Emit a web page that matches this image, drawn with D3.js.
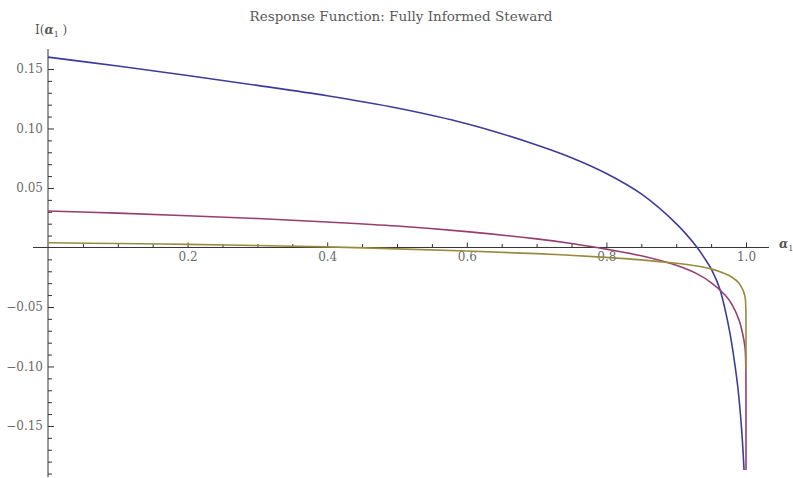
<!DOCTYPE html>
<html>
<head>
<meta charset="utf-8">
<script src="https://cdn.jsdelivr.net/npm/d3@7"></script>
<style>
  html, body { margin: 0; padding: 0; background: #fff; }
  svg { display: block; }
</style>
</head>
<body>
<svg id="chart" width="793" height="478"></svg>
<script>
// ---- Data ----
const titleText = "Response Function: Fully Informed Steward";

const xTickValues = [0.2, 0.4, 0.6, 0.8, 1.0];
const yTickValues = [0.15, 0.10, 0.05, -0.05, -0.10, -0.15];

const blueX = [0, 0.1, 0.2, 0.3, 0.4, 0.5, 0.6, 0.7, 0.75, 0.8, 0.85, 0.9, 0.93, 0.94, 0.951, 0.962, 0.970, 0.977, 0.983, 0.988, 0.992, 0.995, 0.9972];
const blueY = [0.1600, 0.1525, 0.1445, 0.1362, 0.1275, 0.1172, 0.1040, 0.0862, 0.0755, 0.0622, 0.0450, 0.0200, 0.0000, -0.0085, -0.0190, -0.0340, -0.0520, -0.0720, -0.0940, -0.1160, -0.1400, -0.1640, -0.1870];

const magentaX = [0, 0.1, 0.2, 0.3, 0.4, 0.5, 0.6, 0.7, 0.75, 0.78, 0.8, 0.85, 0.9, 0.93, 0.95, 0.97, 0.98, 0.99, 0.995, 0.9986, 0.9997, 1.0, 1.0];
const magentaY = [0.0307, 0.0289, 0.0267, 0.0243, 0.0214, 0.0180, 0.0133, 0.0072, 0.0034, 0.0006, -0.0014, -0.0070, -0.0150, -0.0222, -0.0295, -0.0400, -0.0480, -0.0610, -0.0720, -0.0840, -0.1000, -0.1250, -0.1870];

const oliveX = [0, 0.1, 0.2, 0.3, 0.4, 0.5, 0.6, 0.7, 0.8, 0.85, 0.9, 0.93, 0.95, 0.97, 0.98, 0.99, 0.995, 0.9986, 0.9998, 1.0, 1.0];
const oliveY = [0.0040, 0.0033, 0.0026, 0.0016, 0.0005, -0.0012, -0.0030, -0.0052, -0.0083, -0.0104, -0.0133, -0.0156, -0.0180, -0.0220, -0.0250, -0.0300, -0.0350, -0.0413, -0.0520, -0.0650, -0.1030];

const seriesNames = ["blue", "magenta", "olive"];
const seriesColors = ["#3d3d99", "#993d71", "#998b3d"];

// ---- Build ----
const svg = d3.select("#chart");

const x = d3.scaleLinear().domain([0, 1]).range([48, 746]);
const y = d3.scaleLinear().domain([0.1668, -0.1929]).range([49, 477]);

const xAxisExtent = [-0.0215, 1.033];

// title
svg.append("text")
  .attr("x", 401).attr("y", 21)
  .attr("text-anchor", "middle")
  .attr("font-family", "'DejaVu Serif', serif")
  .attr("font-size", 13.5)
  .attr("fill", "#5a5a5a")
  .text(titleText);

// minor tick values
const yMinor = d3.range(-19, 17).map(d => d / 100).filter(v => !yTickValues.some(t => Math.abs(t - v) < 1e-9) && Math.abs(v) > 1e-9);
const xMinor = d3.range(1, 21).map(d => d * 0.05).filter(v => !xTickValues.some(t => Math.abs(t - v) < 1e-9));

const axisColor = "#333";
const labelColor = "#6a6a6a";

// y axis
const gy = svg.append("g").attr("transform", `translate(${x(0)},0)`);
gy.call(d3.axisLeft(y).tickValues(yMinor).tickSizeInner(-4).tickSizeOuter(0).tickFormat(""));
gy.call(g => g.select(".domain").remove());
const gy2 = svg.append("g").attr("transform", `translate(${x(0)},0)`);
gy2.call(d3.axisLeft(y).tickValues(yTickValues).tickSizeInner(-6).tickSizeOuter(0).tickPadding(5).tickFormat(d3.format(".2f")));
gy2.call(g => g.select(".domain").remove());
[gy, gy2].forEach(g => {
  g.selectAll("line").attr("stroke", axisColor);
  g.selectAll("text").attr("fill", labelColor).attr("font-family", "'DejaVu Serif', serif").attr("font-size", 12);
});
svg.append("line")
  .attr("x1", x(0)).attr("x2", x(0))
  .attr("y1", y.range()[0]).attr("y2", y.range()[1])
  .attr("stroke", axisColor).attr("stroke-width", 1);

// x axis
const gx = svg.append("g").attr("transform", `translate(0,${y(0)})`);
gx.call(d3.axisBottom(x).tickValues(xMinor).tickSizeInner(-3.5).tickSizeOuter(0).tickFormat(""));
gx.call(g => g.select(".domain").remove());
const gx2 = svg.append("g").attr("transform", `translate(0,${y(0)})`);
gx2.call(d3.axisBottom(x).tickValues(xTickValues).tickSizeInner(-5).tickSizeOuter(0).tickPadding(5).tickFormat(d3.format(".1f")));
gx2.call(g => g.select(".domain").remove());
[gx, gx2].forEach(g => {
  g.selectAll("line").attr("stroke", axisColor);
  g.selectAll("text").attr("fill", labelColor).attr("font-family", "'DejaVu Serif', serif").attr("font-size", 12);
});
svg.append("line")
  .attr("x1", x(xAxisExtent[0])).attr("x2", x(xAxisExtent[1]))
  .attr("y1", y(0)).attr("y2", y(0))
  .attr("stroke", axisColor).attr("stroke-width", 1);

// axis labels
const yLab = svg.append("text")
  .attr("x", 35).attr("y", 34)
  .attr("font-family", "'DejaVu Serif', serif")
  .attr("font-size", 12)
  .attr("fill", "#555");
yLab.append("tspan").text("I(");
yLab.append("tspan").attr("font-style", "italic").attr("font-weight", "bold").text("α");
yLab.append("tspan").attr("font-size", 8).attr("dy", 3).text("1");
yLab.append("tspan").attr("dy", -3).text(" )");

const xLab = svg.append("text")
  .attr("x", 779).attr("y", 248)
  .attr("font-family", "'DejaVu Serif', serif")
  .attr("font-size", 12)
  .attr("fill", "#555");
xLab.append("tspan").attr("font-style", "italic").attr("font-weight", "bold").text("α");
xLab.append("tspan").attr("font-size", 8).attr("dy", 3).text("1");

// curves
const seriesData = [
  blueX.map((v, i) => [v, blueY[i]]),
  magentaX.map((v, i) => [v, magentaY[i]]),
  oliveX.map((v, i) => [v, oliveY[i]])
];
const line = d3.line()
  .x(d => x(d[0]))
  .y(d => y(d[1]))
  .curve(d3.curveCatmullRom.alpha(0.5));

svg.append("g").selectAll("path")
  .data(seriesData)
  .join("path")
  .attr("class", (d, i) => "series " + seriesNames[i])
  .attr("d", line)
  .attr("fill", "none")
  .attr("stroke", (d, i) => seriesColors[i])
  .attr("stroke-width", 1.6)
  .attr("stroke-linejoin", "round");
</script>
</body>
</html>
